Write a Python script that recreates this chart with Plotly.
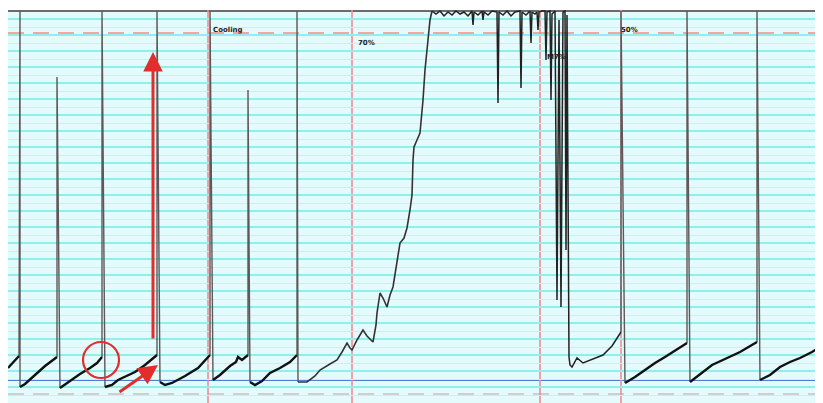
import plotly.graph_objects as go

# ---- data read from the strip-chart (x = time position, y = pen position, rows from top) ----
ramp_x = [
    [8, 14, 19],
    [20, 25, 35, 45, 57],
    [60, 70, 80, 90, 97, 102],
    [105, 112, 118, 125, 135, 145, 157],
    [160, 165, 172, 185, 198, 210],
    [213, 220, 230, 236, 238, 242, 248],
    [250, 255, 262, 270, 280, 290, 297],
    [625, 635, 645, 655, 665, 675, 687],
    [690, 700, 712, 725, 740, 757],
    [760, 770, 780, 790, 800, 812, 823],
]
ramp_y = [
    [368, 362, 356],
    [387, 384, 375, 366, 357],
    [388, 381, 374, 368, 363, 357],
    [387, 385, 380, 377, 372, 365, 355],
    [382, 385, 383, 376, 368, 355],
    [380, 375, 366, 362, 357, 360, 355],
    [382, 385, 381, 373, 368, 362, 355],
    [383, 377, 370, 363, 357, 351, 343],
    [382, 374, 365, 359, 352, 342],
    [380, 375, 367, 362, 358, 352, 345],
]

# pen sweeps to the top between ramps
sweep_x = [20, 57, 102, 157, 210, 248, 297, 621, 687, 757]
sweep_top = [11, 77, 11, 11, 11, 90, 11, 11, 11, 11]

# slow rise, saturation burst and recovery
rise_x = [297, 298, 307, 315, 320, 330, 337, 342, 347, 350, 352, 357, 363, 367, 373, 376,
          377, 380, 383, 387, 390, 393, 397, 400, 404, 407, 410, 412, 413, 414, 417, 420,
          423, 425, 428, 430, 432]
rise_y = [11, 382, 382, 376, 370, 364, 360, 352, 343, 348, 350, 340, 330, 336, 342, 325,
          313, 293, 298, 307, 295, 287, 262, 243, 238, 228, 210, 195, 160, 147, 140, 133,
          100, 70, 40, 20, 11]

burst_x = [432, 436, 440, 444, 448, 452, 456, 460, 464, 468, 472, 473, 474, 478, 482, 483,
           484, 488, 492, 497, 498, 499, 503, 507, 511, 515, 520, 521, 522, 526, 530, 531,
           532, 535, 537, 538, 539, 542, 545, 546, 547, 550, 551, 552, 555, 557, 559, 561,
           563, 565, 566, 567, 569, 570, 572, 577, 583, 590, 603, 612, 621]
burst_y = [11, 14, 11, 16, 12, 15, 11, 14, 12, 16, 11, 25, 12, 15, 11, 20,
           12, 15, 11, 12, 103, 12, 15, 11, 16, 12, 11, 88, 12, 15, 11, 43,
           12, 14, 12, 30, 12, 11, 11, 60, 12, 11, 100, 14, 11, 300, 20, 307,
           12, 11, 250, 15, 357, 365, 367, 358, 363, 360, 355, 346, 332]

ref_red_x = [208, 352, 540, 621]

labels = ["Cooling", "70%", "M7%", "50%"]
label_x = [228, 366, 556, 629]
label_y = [30, 43, 57, 30]

fig = go.Figure()

# build sweep path from the ramp ends / starts
sx, sy = [], []
pairs = [(0, 1), (1, 2), (2, 3), (3, 4), (4, 5), (5, 6), (6, None), (None, 7), (7, 8), (8, 9)]
for i, (a, b) in enumerate(pairs):
    if a is not None:
        sx.append(ramp_x[a][-1]); sy.append(ramp_y[a][-1])
    else:
        sx.append(burst_x[-1]); sy.append(burst_y[-1])
    sx.append(sweep_x[i]); sy.append(sweep_top[i])
    if b is not None:
        sx.append(ramp_x[b][0]); sy.append(ramp_y[b][0])
    else:
        sx.append(rise_x[1]); sy.append(rise_y[1])
    sx.append(None); sy.append(None)

fig.add_trace(go.Scatter(x=sx, y=sy, mode="lines",
                         line=dict(color="#5a5a5a", width=1.4), hoverinfo="skip"))

rx, ry = [], []
for xs, ys in zip(ramp_x, ramp_y):
    rx += xs + [None]
    ry += ys + [None]
fig.add_trace(go.Scatter(x=rx, y=ry, mode="lines",
                         line=dict(color="#111111", width=2.4), hoverinfo="skip"))

fig.add_trace(go.Scatter(x=rise_x[1:], y=rise_y[1:], mode="lines",
                         line=dict(color="#333333", width=1.6), hoverinfo="skip"))
fig.add_trace(go.Scatter(x=burst_x, y=burst_y, mode="lines",
                         line=dict(color="#222222", width=1.5), hoverinfo="skip"))

shapes = []
# horizontal reference lines
shapes.append(dict(type="line", xref="paper", x0=0, x1=1, yref="y", y0=11, y1=11,
                   line=dict(color="#6b6b6b", width=2), layer="between"))
shapes.append(dict(type="line", xref="paper", x0=0, x1=1, yref="y", y0=19, y1=19,
                   line=dict(color="#a8a8e0", width=1.5), layer="between"))
shapes.append(dict(type="line", xref="paper", x0=0, x1=1, yref="y", y0=33, y1=33,
                   line=dict(color="#eeaaa0", width=2, dash="16px,9px"), layer="between"))
shapes.append(dict(type="line", xref="paper", x0=0, x1=1, yref="y", y0=380, y1=380,
                   line=dict(color="#4f7fd2", width=2), layer="between"))
shapes.append(dict(type="line", xref="paper", x0=0, x1=1, yref="y", y0=394, y1=394,
                   line=dict(color="#cfcfcf", width=2, dash="16px,9px"), layer="between"))
for xv in ref_red_x:
    shapes.append(dict(type="line", xref="x", x0=xv, x1=xv, yref="paper", y0=0, y1=1,
                       line=dict(color="#f08c8c", width=1.6), layer="between"))
# red circle annotation
shapes.append(dict(type="circle", xref="x", yref="y", x0=83, x1=119, y0=342, y1=378,
                   line=dict(color="#e32d2d", width=2.2)))

annotations = []
for t, xv, yv in zip(labels, label_x, label_y):
    annotations.append(dict(x=xv, y=yv, text="<b>" + t + "</b>", showarrow=False,
                            font=dict(size=7, color="#222", family="DejaVu Sans")))
annotations.append(dict(x=153, y=52, ax=153, ay=340, xref="x", yref="y", axref="x", ayref="y",
                        text="", showarrow=True, arrowhead=2, arrowsize=1.3, arrowwidth=3,
                        arrowcolor="#e32d2d"))
annotations.append(dict(x=158, y=365, ax=118, ay=393, xref="x", yref="y", axref="x", ayref="y",
                        text="", showarrow=True, arrowhead=2, arrowsize=1.3, arrowwidth=3,
                        arrowcolor="#e32d2d"))

fig.update_layout(
    width=815, height=395,
    margin=dict(l=0, r=0, t=2, b=0),
    paper_bgcolor="white",
    plot_bgcolor="#e4fbfb",
    showlegend=False,
    shapes=shapes,
    annotations=annotations,
    xaxis=dict(range=[8, 823], showgrid=False, zeroline=False, showticklabels=False,
               ticks="", showline=False),
    yaxis=dict(range=[403, 10], showgrid=True, gridcolor="#93ecee", gridwidth=2,
               tick0=3, dtick=16, zeroline=False, showticklabels=False, ticks="",
               minor=dict(showgrid=True, gridcolor="#bdf4f4", gridwidth=1, dtick=8, tick0=3)),
)

fig.write_html("out.html")
